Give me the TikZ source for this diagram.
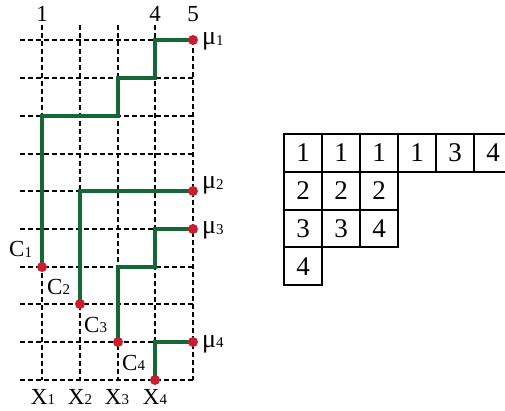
\documentclass[tikz,border=0pt]{standalone}
\usepackage{fontspec}
\setmainfont{Liberation Serif}
\definecolor{pathgreen}{RGB}{22,103,55}
\definecolor{dotred}{RGB}{200,30,45}
\newcommand\lbl{\fontsize{23}{26}\selectfont}
\newcommand\sbs[1]{{\fontsize{15}{17}\selectfont\raisebox{-0.8pt}{#1}}}
\newcommand\mmu{{\fontsize{26}{28}\selectfont μ}}
\begin{document}
\begin{tikzpicture}[x=1pt,y=-1pt,
  gridline/.style={dashed,dash pattern=on 5pt off 3pt,line width=1.2pt,black},
  gpath/.style={pathgreen,line width=4pt,line join=miter},
  dot/.style={circle,fill=dotred,inner sep=0pt,minimum size=10pt},
  lab/.style={inner sep=0pt,font=\lbl},
  cell/.style={draw,line width=2pt,minimum width=38pt,minimum height=37.8pt,inner sep=0pt,font=\fontsize{27}{30}\selectfont}]
\useasboundingbox (0,0) rectangle (505,411);
% dashed grid
\foreach \y in {40,78,116,154,191,229,267,304,342,380}
  \draw[gridline] (20,\y) -- (193,\y);
\foreach \x in {42,80,118,155}
  \draw[gridline] (\x,25) -- (\x,380);
\draw[gridline] (193,40) -- (193,380);
% column labels
\node[lab,anchor=base] (k1) at (42,22) {1};
\node[lab,anchor=base] (k4) at (155,22) {4};
\node[lab,anchor=base] (k5) at (193,22) {5};
% corners
\coordinate (a1) at (42,116);
\coordinate (a2) at (118,116);
\coordinate (a3) at (118,78);
\coordinate (a4) at (155,78);
\coordinate (a5) at (155,40);
\coordinate (b1) at (80,191);
\coordinate (c1a) at (118,267);
\coordinate (c2a) at (155,267);
\coordinate (c3a) at (155,229);
\coordinate (d1) at (155,342);
% green paths
\draw[gpath] (42,267) -- (a1) -- (a2) -- (a3) -- (a4) -- (a5) -- (193,40);
\draw[gpath] (80,304) -- (b1) -- (193,191);
\draw[gpath] (118,342) -- (c1a) -- (c2a) -- (c3a) -- (193,229);
\draw[gpath] (155,380) -- (d1) -- (193,342);
% dots
\node[dot] (m1) at (193,40) {};
\node[dot] (m2) at (193,191) {};
\node[dot] (m3) at (193,229) {};
\node[dot] (m4) at (193,342) {};
\node[dot] (c1) at (42,267) {};
\node[dot] (c2) at (80,304) {};
\node[dot] (c3) at (118,342) {};
\node[dot] (c4) at (155,380) {};
% labels
\node[lab,anchor=base west] (lm1) at (202,45) {\mmu\sbs{1}};
\node[lab,anchor=base west] (lm2) at (202,189) {\mmu\sbs{2}};
\node[lab,anchor=base west] (lm3) at (202,234) {\mmu\sbs{3}};
\node[lab,anchor=base west] (lm4) at (202,347) {\mmu\sbs{4}};
\node[lab,anchor=base west] (lc1) at (9,257) {C\sbs{1}};
\node[lab,anchor=base west] (lc2) at (47,294) {C\sbs{2}};
\node[lab,anchor=base west] (lc3) at (84,332) {C\sbs{3}};
\node[lab,anchor=base west] (lc4) at (122,370) {C\sbs{4}};
\node[lab,anchor=base] (lx1) at (43,404) {X\sbs{1}};
\node[lab,anchor=base] (lx2) at (80,404) {X\sbs{2}};
\node[lab,anchor=base] (lx3) at (117,404) {X\sbs{3}};
\node[lab,anchor=base] (lx4) at (155,404) {X\sbs{4}};
% tableau
\foreach \c/\v in {0/1,1/1,2/1,3/1,4/3,5/4}
  \node[cell] (t1-\c) at (303+38*\c,152.9) {\v};
\foreach \c/\v in {0/2,1/2,2/2}
  \node[cell] (t2-\c) at (303+38*\c,190.7) {\v};
\foreach \c/\v in {0/3,1/3,2/4}
  \node[cell] (t3-\c) at (303+38*\c,228.5) {\v};
\node[cell] (t4-0) at (303,266.3) {4};
\end{tikzpicture}
\end{document}
